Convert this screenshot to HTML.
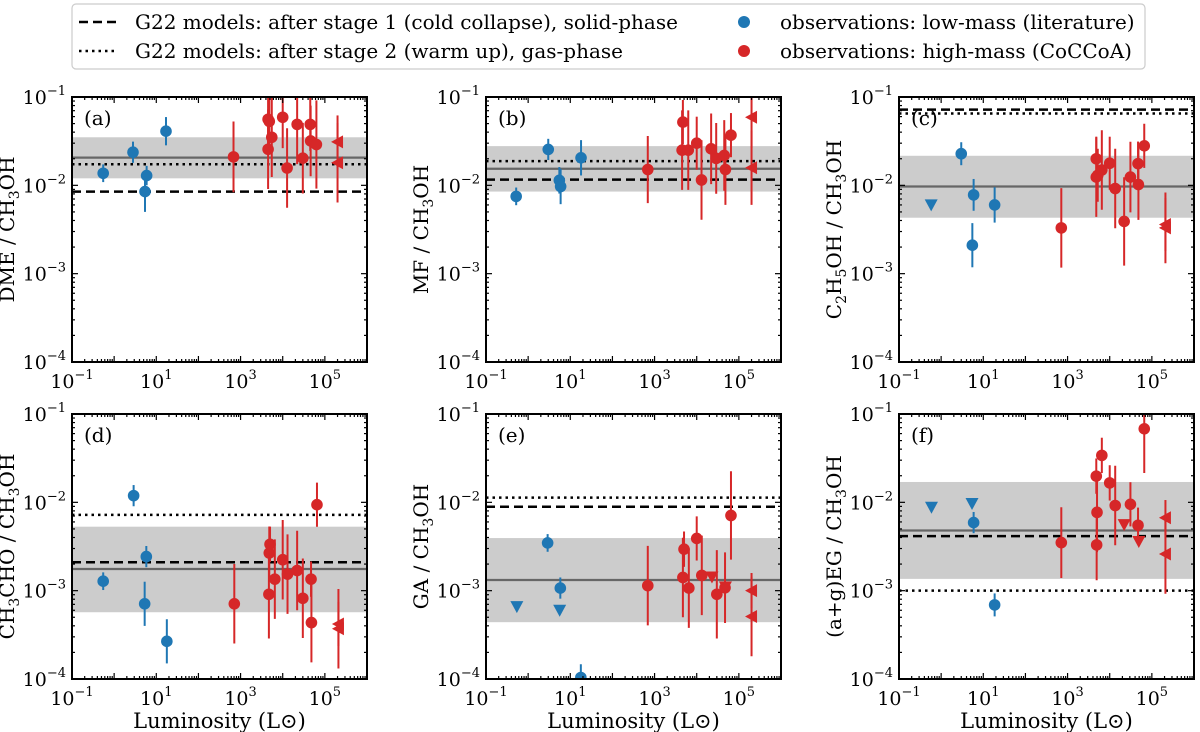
<!DOCTYPE html>
<html><head><meta charset="utf-8"><style>
html,body{margin:0;padding:0;background:#fff;}
svg{display:block;font-family:"DejaVu Serif","Liberation Serif",serif;}
</style></head><body>
<svg id="fig" width="1200" height="732" viewBox="0 0 1200 732" xmlns="http://www.w3.org/2000/svg">
<g>
<rect x="72" y="4" width="1073" height="65" rx="4" fill="#fff" stroke="#ccc" stroke-width="1.2"/>
<line x1="79" y1="22" x2="118" y2="22" stroke="#000" stroke-width="2.5" stroke-dasharray="9,5"/>
<text x="135" y="29" font-size="20">G22 models: after stage 1 (cold collapse), solid-phase</text>
<line x1="79" y1="51" x2="118" y2="51" stroke="#000" stroke-width="2.5" stroke-dasharray="2.5,4"/>
<text x="135" y="58" font-size="20">G22 models: after stage 2 (warm up), gas-phase</text>
<circle cx="744" cy="22" r="6" fill="#1f77b4"/>
<text x="780" y="29" font-size="20">observations: low-mass (literature)</text>
<circle cx="744" cy="51" r="6" fill="#d62728"/>
<text x="780" y="58" font-size="20">observations: high-mass (CoCCoA)</text>
</g>
</svg>
<script>
// ---- data ----
const panelLabels = ["(a)","(b)","(c)","(d)","(e)","(f)"];
const xTickExps = [-1,1,3,5];
const yTickExps = [-4,-3,-2,-1];

const lineDashed = [0.0085,0.0116,0.072,0.0021,0.0089,0.00415];
const lineDotted = [0.0173,0.0188,0.065,0.0072,0.0113,0.001];
const lineMedian = [0.0206,0.0154,0.0097,0.00176,0.00132,0.0048];
const bandLo = [0.012,0.0085,0.0043,0.00057,0.00044,0.00136];
const bandHi = [0.035,0.0278,0.0216,0.0053,0.00394,0.017];

const lowX_a=[0.55,2.8,5.4,5.9,17], lowY_a=[0.0137,0.0237,0.0085,0.0129,0.041], lowT_a=["o","o","o","o","o"], lowE_a=[0.1,0.12,0.23,0.11,0.16];
const highX_a=[680,4500,4500,4800,5500,10000,12700,22000,30000,45000,46000,63000,2e5,2e5];
const highY_a=[0.021,0.056,0.0256,0.053,0.035,0.059,0.0157,0.049,0.0203,0.049,0.0318,0.029,0.031,0.018];
const highT_a=["o","o","o","o","o","o","o","o","o","o","o","o","<","<"];
const highE_a=[0.4,0.4,0.45,0.3,0.45,0.35,0.45,0.45,0.4,0.3,0.4,0.5,0.3,0.45];

const lowX_b=[0.52,3,5.5,5.9,18], lowY_b=[0.0075,0.0255,0.0114,0.0097,0.0205], lowT_b=["o","o","o","o","o"], lowE_b=[0.1,0.12,0.15,0.2,0.2];
const highX_b=[690,4700,4500,6300,10000,13000,22000,29000,45000,48000,65000,2e5,2e5];
const highY_b=[0.0151,0.052,0.025,0.025,0.030,0.0115,0.0259,0.0202,0.0218,0.0151,0.037,0.059,0.0158];
const highT_b=["o","o","o","o","o","o","o","o","o","o","o","<","<"];
const highE_b=[0.38,0.25,0.45,0.45,0.3,0.45,0.4,0.4,0.4,0.4,0.25,0.35,0.42];

const lowX_c=[3,0.58,5.9,5.5,18.6], lowY_c=[0.0228,0.006,0.0078,0.0021,0.006], lowT_c=["o","v","o","o","o"], lowE_c=[0.13,0,0.18,0.25,0.2];
const highX_c=[710,4800,4800,5200,6500,10000,13500,22000,31000,47000,48000,66000,2.1e5,2.1e5];
const highY_c=[0.0033,0.020,0.0124,0.013,0.0149,0.0178,0.0092,0.0039,0.0124,0.0176,0.0102,0.028,0.0036,0.0033];
const highT_c=["o","o","o","o","o","o","o","o","o","o","o","o","<","<"];
const highE_c=[0.45,0.25,0.45,0.3,0.45,0.3,0.45,0.5,0.4,0.25,0.4,0.25,0.3,0.4];

const lowX_d=[0.55,2.9,5.8,5.3,17.8], lowY_d=[0.00128,0.0119,0.00243,0.00071,0.000267], lowT_d=["o","o","o","o","o"], lowE_d=[0.1,0.12,0.12,0.25,0.25];
const highX_d=[710,4700,4800,5000,6500,10000,13000,22000,30000,47000,48000,65000,2.1e5,2.1e5];
const highY_d=[0.00071,0.00091,0.00267,0.00335,0.00135,0.00224,0.00154,0.00169,0.00082,0.00135,0.000435,0.0094,0.00042,0.00037];
const highT_d=["o","o","o","o","o","o","o","o","o","o","o","o","<","<"];
const highE_d=[0.45,0.5,0.3,0.2,0.45,0.45,0.45,0.45,0.45,0.2,0.45,0.25,0.25,0.45];

const lowX_e=[0.54,2.9,5.8,5.6,17.8], lowY_e=[0.00066,0.00347,0.00107,0.0006,0.000104], lowT_e=["v","o","o","v","o"], lowE_e=[0,0.1,0.12,0,0.15];
const highX_e=[690,4700,5000,6500,10000,13200,23000,30000,47000,48000,65000,2e5,2e5];
const highY_e=[0.00114,0.00141,0.00295,0.00107,0.0039,0.00149,0.00143,0.00091,0.00108,0.0011,0.0071,0.001,0.00051];
const highT_e=["o","o","o","o","o","o","v","o","o","v","o","<","<"];
const highE_e=[0.45,0.45,0.2,0.45,0.25,0.45,0,0.5,0.4,0,0.5,0.2,0.45];

const lowX_f=[0.59,5.4,5.9,18.6], lowY_f=[0.0088,0.0097,0.0059,0.00069], lowT_f=["v","v","o","o"], lowE_f=[0,0,0.12,0.13];
const highX_f=[710,4800,5000,4900,6500,10000,13500,22000,31000,47000,49000,66000,2.1e5,2.1e5];
const highY_f=[0.0035,0.0198,0.0077,0.0033,0.034,0.0166,0.0092,0.0056,0.0095,0.0055,0.0036,0.068,0.0067,0.0026];
const highT_f=["o","o","o","o","o","o","o","v","o","o","v","o","<","<"];
const highE_f=[0.4,0.2,0.45,0.4,0.2,0.2,0.45,0,0.25,0.2,0,0.5,0.2,0.45];

const lowXs=[lowX_a,lowX_b,lowX_c,lowX_d,lowX_e,lowX_f], lowYs=[lowY_a,lowY_b,lowY_c,lowY_d,lowY_e,lowY_f];
const lowTs=[lowT_a,lowT_b,lowT_c,lowT_d,lowT_e,lowT_f], lowEs=[lowE_a,lowE_b,lowE_c,lowE_d,lowE_e,lowE_f];
const highXs=[highX_a,highX_b,highX_c,highX_d,highX_e,highX_f], highYs=[highY_a,highY_b,highY_c,highY_d,highY_e,highY_f];
const highTs=[highT_a,highT_b,highT_c,highT_d,highT_e,highT_f], highEs=[highE_a,highE_b,highE_c,highE_d,highE_e,highE_f];

// ---- drawing ----
const NS="http://www.w3.org/2000/svg";
const svg=document.getElementById('fig');
function mk(tag,attrs,parent){const e=document.createElementNS(NS,tag);for(const k in attrs)e.setAttribute(k,attrs[k]);(parent||svg).appendChild(e);return e;}
const lefts=[72,486,899], tops=[97,414], W=295, H=265;
const BLUE="#1f77b4", RED="#d62728";

for(let p=0;p<6;p++){
  const L=lefts[p%3], T=tops[Math.floor(p/3)];
  const g=mk('g',{});
  
  
  const xs=v=>L+(Math.log10(v)+1)/7*W;
  const ys=v=>T+(-1-Math.log10(v))/3*H;
  const clip=mk('clipPath',{id:'cp'+p},g);
  mk('rect',{x:L,y:T,width:W,height:H},clip);
  const pg=mk('g',{'clip-path':'url(#cp'+p+')'},g);
  const band=mk('rect',{x:L,y:ys(bandHi[p]),width:W,height:ys(bandLo[p])-ys(bandHi[p]),fill:'#cccccc'},pg);
  
  
  const med=mk('line',{x1:L,x2:L+W,y1:ys(lineMedian[p]),y2:ys(lineMedian[p]),stroke:'#666',"stroke-width":2.2},pg);
  
  
  const dot=mk('line',{x1:L,x2:L+W,y1:ys(lineDotted[p]),y2:ys(lineDotted[p]),stroke:'#000',"stroke-width":2.5,"stroke-dasharray":"2.5,4"},pg);
  
  
  const das=mk('line',{x1:L,x2:L+W,y1:ys(lineDashed[p]),y2:ys(lineDashed[p]),stroke:'#000',"stroke-width":2.5,"stroke-dasharray":"9,5"},pg);
  
  
  function pts(X,Y,Tp,E,col,nm){
    for(let i=0;i<X.length;i++){
      const cx=xs(X[i]), cy=ys(Y[i]);
      if(E[i]>0){
        const eb=mk('line',{x1:cx,x2:cx,y1:ys(Y[i]*Math.pow(10,E[i])),y2:ys(Y[i]/Math.pow(10,E[i])),stroke:col,"stroke-width":2},pg);
        
        
      }
      let m;
      if(Tp[i]==='o') m=mk('circle',{cx:cx,cy:cy,r:5.8,fill:col},pg);
      else if(Tp[i]==='v') m=mk('polygon',{points:`${cx-6.5},${cy-5.5} ${cx+6.5},${cy-5.5} ${cx},${cy+6.5}`,fill:col},pg);
      else m=mk('polygon',{points:`${cx-6.5},${cy} ${cx+5.5},${cy-6.5} ${cx+5.5},${cy+6.5}`,fill:col},pg);
      
      
    }
  }
  pts(lowXs[p],lowYs[p],lowTs[p],lowEs[p],BLUE,'low-mass');
  pts(highXs[p],highYs[p],highTs[p],highEs[p],RED,'high-mass');
  for(let d=-1;d<6;d++){for(let k=1;k<10;k++){const v=k*Math.pow(10,d);const x=xs(v);const len=k===1?6:3;
    mk('line',{x1:x,x2:x,y1:T+H,y2:T+H-len,stroke:'#000','stroke-width':1.2},g);mk('line',{x1:x,x2:x,y1:T,y2:T+len,stroke:'#000','stroke-width':1.2},g);}}
  for(let d=-4;d<-1+0.01;d++){for(let k=1;k<10;k++){if(d===-1&&k>1)break;const v=k*Math.pow(10,d);const y=ys(v);const len=k===1?6:3;
    mk('line',{x1:L,x2:L+len,y1:y,y2:y,stroke:'#000','stroke-width':1.2},g);mk('line',{x1:L+W,x2:L+W-len,y1:y,y2:y,stroke:'#000','stroke-width':1.2},g);}}
  const fr=mk('rect',{x:L,y:T,width:W,height:H,fill:'none',stroke:'#000','stroke-width':2},g);
  
  
  xTickExps.forEach(e=>{const t=mk('text',{x:xs(Math.pow(10,e)),y:T+H+26,'font-size':19,'text-anchor':'middle'},g);
    
    
    t.innerHTML='10<tspan dy="-9" font-size="13">'+(e<0?'−':'')+Math.abs(e)+'</tspan>';});
  yTickExps.forEach(e=>{const t=mk('text',{x:L-6,y:ys(Math.pow(10,e))+7,'font-size':19,'text-anchor':'end'},g);
    
    
    t.innerHTML='10<tspan dy="-9" font-size="13">−'+Math.abs(e)+'</tspan>';});
  const pl=mk('text',{x:L+12,y:T+28,'font-size':20},g);
  
  
  pl.textContent=panelLabels[p];
  const lx=L-58, ly=T+H/2;
  const yl=mk('text',{x:lx,y:ly,'font-size':20,'text-anchor':'middle',transform:`rotate(-90 ${lx} ${ly})`},g);
  
  
  const sub=s=>'<tspan dy="5" font-size="14">'+s+'</tspan><tspan dy="-5">';
  const lab=["DME / CH"+sub('3')+"OH</tspan>","MF / CH"+sub('3')+"OH</tspan>",
    "C"+sub('2')+"H</tspan>"+sub('5')+"OH / CH</tspan>"+sub('3')+"OH</tspan>",
    "CH"+sub('3')+"CHO / CH</tspan>"+sub('3')+"OH</tspan>","GA / CH"+sub('3')+"OH</tspan>","(a+g)EG / CH"+sub('3')+"OH</tspan>"];
  yl.innerHTML=lab[p];
  if(p>=3){const xl=mk('text',{x:L+W/2,y:T+H+49,'font-size':21,'text-anchor':'middle'},g);
    
    
    xl.textContent='Luminosity (L\u2299)';}
}
</script>
</body></html>
